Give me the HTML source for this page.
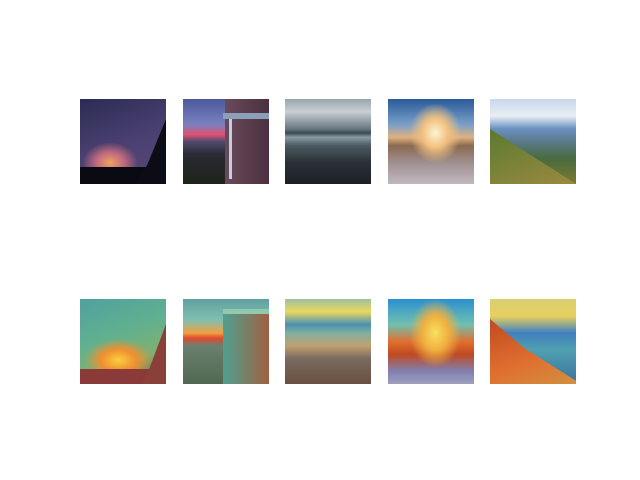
<!DOCTYPE html>
<html><head><meta charset="utf-8"><style>
body{margin:0;background:#fff;width:640px;height:480px;position:relative;overflow:hidden;font-family:"Liberation Sans",sans-serif}
.im{position:absolute;width:86px;height:85px;overflow:hidden}
.im div{position:absolute}
</style></head><body>
<!-- top row -->
<div class="im" style="left:80px;top:99px;background:radial-gradient(ellipse 40% 30% at 35% 75%,#f0a060 0%,#c06a80 40%,transparent 80%),linear-gradient(160deg,#2a2c55,#4a4070 50%,#5a4a7a)">
<div style="left:0;top:68px;width:86px;height:17px;background:#0a0a12"></div>
<div style="left:55px;top:20px;width:31px;height:65px;background:#0c0c16;clip-path:polygon(100% 0,100% 100%,0 100%,40% 70%)"></div>
</div>
<div class="im" style="left:183px;top:99px;background:linear-gradient(180deg,#4a5a9a 0%,#7a80c0 30%,#e05070 42%,#504a70 50%,#2a2a35 65%,#1c2418 100%)">
<div style="left:42px;top:0;width:44px;height:85px;background:linear-gradient(90deg,#6a4a5a,#4a3040)"></div>
<div style="left:40px;top:14px;width:46px;height:6px;background:#8aa0b8"></div>
<div style="left:46px;top:20px;width:3px;height:60px;background:#c0d0e0"></div>
</div>
<div class="im" style="left:285px;top:99px;background:linear-gradient(180deg,#9aa4ac 0%,#c8d0d4 15%,#6a7880 35%,#3a4a52 40%,#8a9aa4 45%,#4a5a60 55%,#2a3035 75%,#1a2025 100%)"></div>
<div class="im" style="left:388px;top:99px;background:radial-gradient(ellipse 30% 35% at 55% 40%,#fff4d0,#f0c080 50%,transparent 100%),linear-gradient(180deg,#2a5a9a 0%,#7aa0c8 30%,#e0b080 45%,#8a6a50 55%,#a09090 75%,#c0b8c0 100%)"></div>
<div class="im" style="left:490px;top:99px;background:linear-gradient(180deg,#c8d8ec 0%,#e8eef4 20%,#6a90c0 35%,#5a7a8a 50%,#4a6a40 70%,#7a7a30 100%)">
<div style="left:0;top:30px;width:86px;height:55px;background:linear-gradient(160deg,#5a7a30,#9a8a40);clip-path:polygon(0 0,30% 30%,100% 100%,0 100%)"></div>
</div>
<!-- bottom row -->
<div class="im" style="left:80px;top:299px;background:radial-gradient(ellipse 40% 25% at 45% 72%,#f8d040,#f09030 50%,transparent 100%),linear-gradient(160deg,#50a0a0,#60b090 40%,#80b070 70%,#6a5040)">
<div style="left:0;top:70px;width:86px;height:15px;background:#8a3a38"></div>
<div style="left:62px;top:25px;width:24px;height:60px;background:#8a4038;clip-path:polygon(100% 0,100% 100%,0 100%,30% 75%)"></div>
</div>
<div class="im" style="left:183px;top:299px;background:linear-gradient(180deg,#60a0a0 0%,#80c0b0 25%,#f0a040 40%,#e04a30 46%,#6a8070 55%,#506850 100%)">
<div style="left:40px;top:10px;width:46px;height:75px;background:linear-gradient(90deg,#50a090,#a06040)"></div>
<div style="left:40px;top:10px;width:46px;height:5px;background:#90c8b0"></div>
</div>
<div class="im" style="left:285px;top:299px;background:linear-gradient(180deg,#a0c0a0 0%,#e8d860 15%,#4a90b0 30%,#80b0a0 40%,#c0a070 55%,#7a6a60 70%,#6a5040 100%)"></div>
<div class="im" style="left:388px;top:299px;background:radial-gradient(ellipse 30% 40% at 55% 40%,#f8e060,#f0b040 50%,transparent 100%),linear-gradient(180deg,#2a90d0 0%,#70c0b0 30%,#e07030 50%,#c04a20 65%,#8080b0 85%,#a0a0c0 100%)"></div>
<div class="im" style="left:490px;top:299px;background:linear-gradient(180deg,#d8d070 0%,#e8d060 20%,#4080c0 40%,#50a0b0 60%,#3a70a0 100%)">
<div style="left:0;top:20px;width:86px;height:65px;background:linear-gradient(160deg,#c04a20,#e07030 60%,#d09040);clip-path:polygon(0 0,40% 45%,100% 95%,100% 100%,0 100%)"></div>
</div>
</body></html>
